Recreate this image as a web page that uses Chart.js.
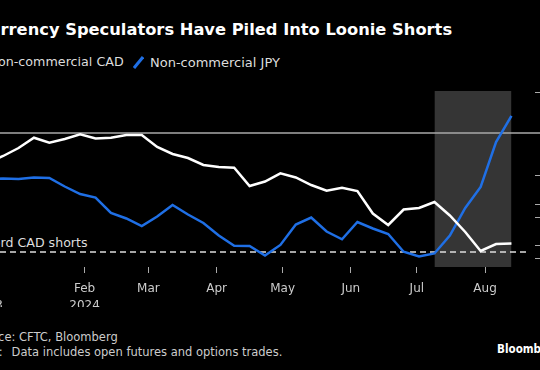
<!DOCTYPE html>
<html>
<head>
<meta charset="utf-8">
<script src="https://cdn.jsdelivr.net/npm/chart.js@4.4.1/dist/chart.umd.min.js"></script>
<style>
  html, body { margin:0; padding:0; background:#000; width:540px; height:370px; overflow:hidden; }
  body { position:relative; font-family:"DejaVu Sans", sans-serif; }
  .t { position:absolute; white-space:nowrap; line-height:1; }
  #wrap { position:absolute; left:-40px; top:0; width:590px; height:370px; }
</style>
</head>
<body>
<div class="t" id="title" style="left:-23px; top:22.2px; font-size:16.3px; font-weight:bold; color:#fff;">Currency Speculators Have Piled Into Loonie Shorts</div>

<svg class="t" style="left:-30px; top:56px;" width="11" height="13"><line x1="1" y1="12" x2="10" y2="1" stroke="#ffffff" stroke-width="3"/></svg>
<div class="t" style="left:-11.5px; top:56.3px; font-size:12.7px; color:#ddd;">Non-commercial CAD</div>
<svg class="t" style="left:132.5px; top:56px;" width="11" height="13"><line x1="1" y1="12" x2="10" y2="1" stroke="#1f6fe5" stroke-width="3"/></svg>
<div class="t" style="left:150px; top:56px; font-size:13px; color:#ddd;">Non-commercial JPY</div>

<div class="t" style="left:-30px; top:237.3px; font-size:12.6px; color:#ddd;">Record CAD shorts</div>

<div class="t" style="left:-28px; top:332px; font-size:11.5px; color:#ccc;">Source: CFTC, Bloomberg</div>
<div class="t" style="left:-28.5px; top:347px; font-size:11.5px; color:#ccc;">Note:<span style="margin-left:9px;">Data includes open futures and options trades.</span></div>
<div class="t" style="left:497px; top:342px; font-size:13px; font-weight:bold; color:#fff; transform:scaleX(0.8); transform-origin:0 0;">Bloomberg</div>

<div id="wrap"><canvas id="c" width="590" height="370"></canvas></div>

<script>
// ---- data (weekly CFTC reports, thousands of contracts) ----
const dates = ['2023-12-19','2023-12-26','2024-01-02','2024-01-09','2024-01-16','2024-01-23','2024-01-30',
  '2024-02-06','2024-02-13','2024-02-20','2024-02-27','2024-03-05','2024-03-12','2024-03-19','2024-03-26',
  '2024-04-02','2024-04-09','2024-04-16','2024-04-23','2024-04-30','2024-05-07','2024-05-14','2024-05-21',
  '2024-05-28','2024-06-04','2024-06-11','2024-06-18','2024-06-25','2024-07-02','2024-07-09','2024-07-16',
  '2024-07-23','2024-07-30','2024-08-06','2024-08-13'];
const cadNet = [-72,-65,-57,-46.7,-51.7,-48,-43.3,-47.5,-46.7,-44,-44,-56,-63,-67,-74,
  -76,-76.7,-95,-90.5,-82.3,-86.5,-94,-99.7,-96.7,-100,-122.5,-134,-118.5,-117,-111,-124.5,
  -141,-160,-153,-152.5];
const jpyNet = [-104.2,-103.6,-104.2,-102.4,-103,-113.2,-122.2,-126.4,-144.9,-151.5,-160.5,-149.1,-135.3,-146.7,-156.9,
  -171.9,-184.1,-184.4,-195.8,-183.2,-158.7,-150.3,-167.1,-176.4,-155.7,-163.5,-170.1,-191.3,-197,-193.4,-171.9,
  -138.9,-113.8,-59.9,-28.7];
const recordCadShorts = -161;
const cadReferenceLevel = -42;
const highlightRange = ['2024-07-09','2024-08-13'];
const tickDates = ['2023-12-19','2024-02-01','2024-03-01','2024-04-01','2024-05-01','2024-06-01','2024-07-01','2024-08-01'];
const tickLabels = [['Dec','2023'],['Feb','2024'],'Mar','Apr','May','Jun','Jul','Aug'];
const jpyAxisTicks = [0,-100,-200];
const cadAxisTicks = [-113,-126,-154];

// ---- helpers ----
const DAY = 86400000;
function dayIndex(s){ const [y,m,d]=s.split('-').map(Number); return (Date.UTC(y,m-1,d)-Date.UTC(2024,0,1))/DAY; }
const X_MIN = -25.6, X_MAX = 235.7;
const JPY_MIN = -209.6, JPY_MAX = 1.2;
const CAD_MIN = -176, CAD_MAX = 0;

Chart.defaults.font.family = '"DejaVu Sans", sans-serif';
Chart.defaults.animation = false;

const cadPts = dates.map((d,i)=>({x:dayIndex(d), y:cadNet[i]}));
const jpyPts = dates.map((d,i)=>({x:dayIndex(d), y:jpyNet[i]}));
const hl = highlightRange.map(d=>({x:dayIndex(d), y:JPY_MAX}));

new Chart(document.getElementById('c'), {
  type:'line',
  data:{ datasets:[
    { label:'Non-commercial CAD', data:cadPts, yAxisID:'y2', borderColor:'#ffffff', borderWidth:2.5, pointRadius:0, order:0 },
    { label:'Non-commercial JPY', data:jpyPts, yAxisID:'y', borderColor:'#1f6fe5', borderWidth:2.5, pointRadius:0, order:1 },
    { label:'Record CAD shorts', data:[{x:X_MIN,y:recordCadShorts},{x:231.6,y:recordCadShorts}], yAxisID:'y2',
      borderColor:'#dddddd', borderWidth:1.5, borderDash:[6,4], pointRadius:0, order:2 },
    { label:'ref', data:[{x:X_MIN,y:cadReferenceLevel},{x:X_MAX+5,y:cadReferenceLevel}], yAxisID:'y2',
      borderColor:'#a8a8a8', borderWidth:1.5, pointRadius:0, order:3, clip:{left:0,top:0,right:8,bottom:0} },
    { label:'highlight', data:hl, yAxisID:'y', borderWidth:0, pointRadius:0, fill:'start',
      backgroundColor:'#353535', order:10 }
  ]},
  options:{
    responsive:false,
    devicePixelRatio:1,
    layout:{ padding:{ top:91, right:5, bottom:63, left:0 } },
    plugins:{ legend:{display:false}, tooltip:{enabled:false}, title:{display:false} },
    scales:{
      x:{ type:'linear', min:X_MIN, max:X_MAX,
        afterBuildTicks:(s)=>{ s.ticks = tickDates.map(d=>({value:dayIndex(d)})); },
        afterFit:(s)=>{ s.height = 40; },
        ticks:{ autoSkip:false, maxRotation:0, color:'#cccccc', font:{size:12, lineHeight:1.42}, padding:7,
          callback:(v,i)=>tickLabels[i] },
        grid:{ drawOnChartArea:false, tickLength:6, color:'#aaaaaa', lineWidth:1 },
        border:{ display:false }
      },
      y2:{ type:'linear', position:'right', weight:0, min:CAD_MIN, max:CAD_MAX,
        afterBuildTicks:(s)=>{ s.ticks = cadAxisTicks.map(v=>({value:v})); },
        afterFit:(s)=>{ s.width = 0; },
        ticks:{ display:false },
        grid:{ drawOnChartArea:false, tickLength:6, color:'#aaaaaa' },
        border:{ display:false }
      },
      y:{ type:'linear', position:'right', weight:1, min:JPY_MIN, max:JPY_MAX,
        afterBuildTicks:(s)=>{ s.ticks = jpyAxisTicks.map(v=>({value:v})); },
        afterFit:(s)=>{ s.width = 10; },
        ticks:{ display:false },
        grid:{ drawOnChartArea:false, tickLength:6, color:'#aaaaaa' },
        border:{ display:false }
      }
    }
  }
});
</script>
</body>
</html>
